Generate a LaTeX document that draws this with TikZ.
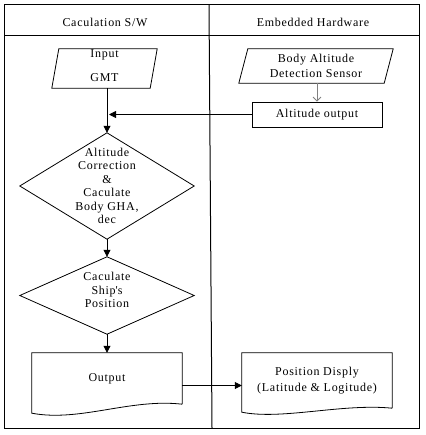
\documentclass[tikz,border=0pt]{standalone}
\usepackage{fontspec}
\setmainfont{Liberation Serif}[LetterSpace=6.0]
\usetikzlibrary{arrows.meta,calc}
\begin{document}
\begin{tikzpicture}[x=1pt,y=-1pt,
  every node/.style={font=\fontsize{12pt}{13.5pt}\selectfont, inner sep=0pt, align=center},
  region/.style={rectangle, minimum width=#1},
  ln/.style={line width=0.8pt, black},
  arr/.style={ln, -{Triangle[length=7pt,width=7pt]}},
  grayarr/.style={line width=0.8pt, gray, -{Straight Barb[length=4pt,width=8pt]}},
  frame/.style={line width=1pt, black}]
\useasboundingbox (0,0) rectangle (425,435);
% swimlane frame
\draw[frame] (4,5) rectangle (419,428);
\draw[frame] (4,36) -- (419,36);
\draw[frame] (209,5) -- (212,428);
\node (hdrL) at (105,22) {Caculation S/W};
\node (hdrR) at (313,22) {Embedded Hardware};
% nodes
\node[region=105pt, minimum height=39pt,
  label={[align=center,yshift=3pt,font=\fontsize{12pt}{24pt}\selectfont]center:{Input\\GMT}}] (gmt) at (104.5,68.5) {};
\draw[ln] ([xshift=7pt]gmt.north west) -- (gmt.north east) -- ([xshift=-7pt]gmt.south east) -- (gmt.south west) -- cycle;
\node[region=154pt, minimum height=34pt, font=\fontsize{12pt}{15pt}\selectfont] (body) at (316,66) {Body Altitude\\Detection Sensor};
\draw[ln] ([xshift=9pt]body.north west) -- (body.north east) -- ([xshift=-9pt]body.south east) -- (body.south west) -- cycle;
\node[region=130pt, minimum height=25pt, draw, ln] (alt) at (317,114.5) {Altitude output};
\node[region=174pt, minimum height=106pt] (d1) at (107,186) {Altitude\\Correction\\\&\\Caculate\\Body GHA,\\dec};
\draw[ln] (d1.north) -- (d1.east) -- (d1.south) -- (d1.west) -- cycle;
\node[region=174pt, minimum height=77pt,
  label={[align=center,yshift=5.5pt]center:{Caculate\\Ship\textquotesingle s\\Position}}] (d2) at (107,295.5) {};
\draw[ln] (d2.north) -- (d2.east) -- (d2.south) -- (d2.west) -- cycle;
\node[region=150pt, minimum height=51pt] (out) at (107,378.5) {Output};
\draw[ln] (out.south east) -- (out.north east) -- (out.north west) -- ([yshift=-9pt]out.south west)
  .. controls +(48,9) and +(-52,-6) .. (out.south east);
\node[region=150pt, minimum height=55pt, font=\fontsize{12pt}{16.5pt}\selectfont] (disp) at (317,380.5) {Position Disply\\(Latitude \& Logitude)};
\draw[ln] (disp.south east) -- (disp.north east) -- (disp.north west) -- ([yshift=-4pt]disp.south west)
  .. controls +(40,8) and +(-50,-5) .. (disp.south east);
% connectors
\draw[arr] (gmt.south -| d1.north) -- (d1.north);
\draw[grayarr] (body.south -| alt.north) -- (alt.north);
\draw[arr] (alt.west) -- ([xshift=2pt]alt.west -| d1.north);
\draw[arr] (d1.south) -- (d2.north);
\draw[arr] (d2.south) -- (out.north);
\draw[arr] ([yshift=-7pt]out.east) -- ([yshift=-7pt]out.east -| disp.west);
\end{tikzpicture}
\end{document}
